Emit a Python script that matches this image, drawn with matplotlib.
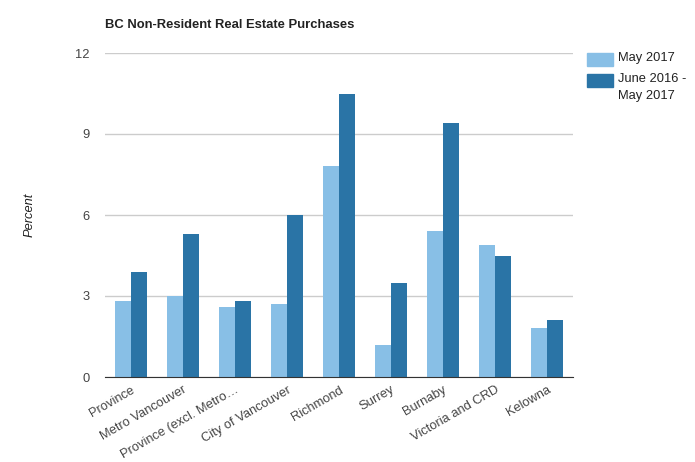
import numpy as np
import matplotlib.pyplot as plt
from matplotlib.patches import Rectangle

# Daten
regions = ["Province", "Metro Vancouver", "Province (excl. Metro…", "City of Vancouver",
           "Richmond", "Surrey", "Burnaby", "Victoria and CRD", "Kelowna"]
may_2017 = [2.8, 3.0, 2.6, 2.7, 7.8, 1.2, 5.4, 4.9, 1.8]
year_to_may = [3.9, 5.3, 2.8, 6.0, 10.5, 3.5, 9.4, 4.5, 2.1]
yticks = [0, 3, 6, 9, 12]
series_labels = ["May 2017", "June 2016 -\nMay 2017"]
colors = ['#88BFE6', '#2A74A6']

plt.rcParams['font.family'] = ['Liberation Sans', 'DejaVu Sans']

W, H = 695, 462
fig = plt.figure(figsize=(6.95, 4.62), dpi=100)
ax = fig.add_axes([105 / W, 1 - 377 / H, 468 / W, 324 / H])

x = np.arange(len(regions))
w = 0.31
ax.bar(x - w / 2 - 0.006, may_2017, w, color=colors[0], zorder=3)
ax.bar(x + w / 2 + 0.006, year_to_may, w, color=colors[1], zorder=3)

ax.set_xlim(-0.5, len(regions) - 0.5)
ax.set_ylim(0, 12)
ax.set_yticks(yticks)
ax.set_yticklabels([str(t) for t in yticks])
ax.set_xticks(x)
ax.set_xticklabels(regions, rotation=30, ha='right', rotation_mode='anchor')
ax.tick_params(axis='both', length=0, labelsize=9.3, colors='#444444')
ax.tick_params(axis='y', pad=11)
ax.tick_params(axis='x', pad=5)

ax.grid(axis='y', color='#CCCCCC', linewidth=1, zorder=0)
for s in ['top', 'right', 'left']:
    ax.spines[s].set_visible(False)
ax.spines['bottom'].set_color('#333333')
ax.spines['bottom'].set_zorder(4)

fig.text(105 / W, 1 - 25 / H, "BC Non-Resident Real Estate Purchases",
         fontsize=9.4, fontweight='bold', color='#222222', va='center')
fig.text(30 / W, 1 - 215 / H, "Percent", rotation=90, style='italic',
         fontsize=9.3, color='#222222', ha='center', va='center')

# Legende (Farbfeld oben an der ersten Textzeile ausgerichtet)
for i, (lab, c) in enumerate(zip(series_labels, colors)):
    top = 53 + i * 21
    fig.add_artist(Rectangle((587 / W, 1 - (top + 13) / H), 26 / W, 13 / H,
                             transform=fig.transFigure, color=c))
    fig.text(618 / W, 1 - (top - 1) / H, lab, fontsize=9.3, color='#222222',
             va='top', ha='left', linespacing=1.55)

fig.savefig('out.png', dpi=100)
